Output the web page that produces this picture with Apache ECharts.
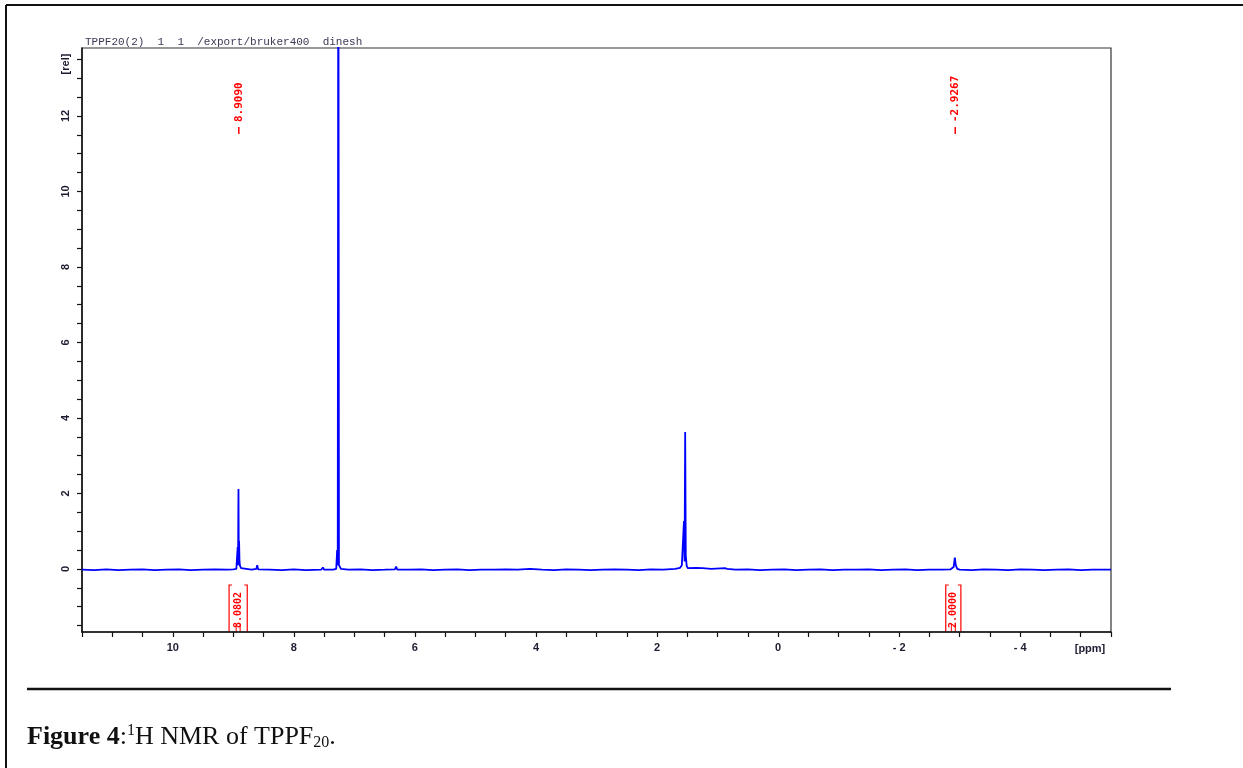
<!DOCTYPE html>
<html>
<head>
<meta charset="utf-8">
<title>1H NMR of TPPF20</title>
<script src="https://cdn.jsdelivr.net/npm/echarts@6/dist/echarts.min.js"></script>
<style>
  html, body { margin: 0; padding: 0; background: #ffffff; }
  #chart { width: 1243px; height: 768px; }
</style>
</head>
<body>
<div id="chart"></div>
<script>
// spectrum (ppm, relative intensity)
const ppm = [
  11.5, 11.3, 11.1, 10.9, 10.7, 10.5, 10.3, 10.1, 9.9, 9.7,
  9.5, 9.3, 9.1, 9.0, 8.95, 8.935, 8.928, 8.922, 8.915, 8.91,
  8.905, 8.898, 8.89, 8.87, 8.85, 8.7, 8.62, 8.605, 8.59, 8.4,
  8.2, 8.0, 7.8, 7.55, 7.52, 7.5, 7.35, 7.3, 7.285, 7.275,
  7.265, 7.255, 7.24, 7.22, 7.1, 6.9, 6.7, 6.5, 6.33, 6.31,
  6.29, 6.1, 5.9, 5.7, 5.5, 5.3, 5.1, 4.9, 4.7, 4.5,
  4.3, 4.1, 3.9, 3.7, 3.5, 3.3, 3.1, 2.9, 2.7, 2.5,
  2.3, 2.1, 1.9, 1.7, 1.62, 1.59, 1.555, 1.545, 1.535, 1.525,
  1.51, 1.49, 1.35, 1.25, 1.1, 0.88, 0.84, 0.7, 0.5, 0.3,
  0.1, -0.1, -0.3, -0.5, -0.7, -0.9, -1.1, -1.3, -1.5, -1.7,
  -1.9, -2.1, -2.3, -2.5, -2.7, -2.85, -2.9, -2.92, -2.935, -2.96,
  -3.0, -3.2, -3.4, -3.6, -3.8, -4.0, -4.2, -4.4, -4.6, -4.8,
  -5.0, -5.2, -5.5
];
const intensity = [
  -0.02, -0.03, -0.01, -0.03, -0.02, -0.01, -0.03, -0.02, -0.01, -0.03,
  -0.02, -0.01, -0.02, -0.01, 0.0, 0.05, 0.58, 0.1, 2.12, 0.3,
  0.74, 0.2, 0.08, 0.02, -0.01, -0.02, 0.0, 0.1, -0.01, -0.02,
  -0.03, -0.01, -0.03, -0.02, 0.04, -0.02, -0.02, 0.0, 0.5, 0.1,
  20, 0.1, 0.05, 0.0, -0.02, -0.01, -0.03, -0.02, -0.01, 0.06,
  -0.02, -0.02, -0.01, -0.03, -0.02, -0.01, -0.03, -0.02, -0.02, -0.01,
  -0.02, 0.0, -0.02, -0.03, -0.01, -0.02, -0.03, -0.02, -0.01, -0.02,
  -0.03, -0.01, -0.02, 0.0, 0.03, 0.1, 1.27, 0.2, 3.63, 0.35,
  0.08, 0.02, 0.03, 0.02, 0.0, 0.02, 0.0, -0.02, -0.01, -0.03,
  -0.02, -0.01, -0.03, -0.02, -0.01, -0.03, -0.02, -0.02, -0.01, -0.03,
  -0.02, -0.01, -0.03, -0.02, -0.02, -0.01, 0.05, 0.3, 0.1, 0.0,
  -0.02, -0.03, -0.01, -0.02, -0.03, -0.01, -0.02, -0.03, -0.02, -0.01,
  -0.03, -0.02, -0.02
];

// axis ticks and labels
const xTickValues = [
  11.5, 11, 10.5, 10, 9.5, 9, 8.5, 8, 7.5, 7, 6.5, 6, 5.5, 5, 4.5, 4, 3.5, 3,
  2.5, 2, 1.5, 1, 0.5, 0, -0.5, -1, -1.5, -2, -2.5, -3, -3.5, -4, -4.5, -5, -5.5
];
const xLabelValues = [10, 8, 6, 4, 2, 0, -2, -4];
const yTickValues = [
  -1.5, -1, -0.5, 0, 0.5, 1, 1.5, 2, 2.5, 3, 3.5, 4, 4.5, 5, 5.5, 6, 6.5, 7,
  7.5, 8, 8.5, 9, 9.5, 10, 10.5, 11, 11.5, 12, 12.5, 13, 13.5
];
const yLabelValues = [0, 2, 4, 6, 8, 10, 12];

// peak picking and integrals
const peakPpm = [8.909, -2.9267];
const peakText = ["8.9090", "-2.9267"];
const integralFrom = [9.07, -2.77];
const integralTo = [8.77, -3.02];
const integralText = ["8.0802", "2.0000"];

const headerText = "TPPF20(2)  1  1  /export/bruker400  dinesh";

const red = "#ff0000";
const axisText = "#1c1c30";

const chart = echarts.init(document.getElementById("chart"), null, {
  renderer: "canvas",
  width: 1243,
  height: 768
});

const spectrum = ppm.map((p, i) => [p, intensity[i]]);

chart.setOption({
  animation: false,
  backgroundColor: "#ffffff",
  grid: {
    left: 82,
    right: 132,
    top: 48,
    bottom: 136,
    show: true,
    borderColor: "#333333",
    borderWidth: 1.2
  },
  xAxis: {
    type: "value",
    inverse: true,
    min: -5.5,
    max: 11.5,
    axisLine: { onZero: false, lineStyle: { color: "#111111", width: 1.5 } },
    axisTick: {
      length: 5,
      customValues: xTickValues,
      lineStyle: { color: "#111111", width: 1.2 }
    },
    axisLabel: {
      customValues: xLabelValues,
      margin: 10,
      color: axisText,
      fontFamily: "Liberation Sans",
      fontWeight: "bold",
      fontSize: 11,
      formatter(v) {
        return v < 0 ? "- " + Math.abs(v) : String(v);
      }
    },
    splitLine: { show: false }
  },
  yAxis: {
    type: "value",
    min: -1.67,
    max: 13.8,
    axisLine: { show: true, onZero: false, lineStyle: { color: "#111111", width: 1.5 } },
    axisTick: {
      show: true,
      length: 5,
      customValues: yTickValues,
      lineStyle: { color: "#111111", width: 1.2 }
    },
    axisLabel: {
      customValues: yLabelValues,
      rotate: 90,
      margin: 11,
      color: axisText,
      fontFamily: "Liberation Sans",
      fontWeight: "bold",
      fontSize: 11
    },
    splitLine: { show: false }
  },
  series: [
    {
      type: "line",
      data: spectrum,
      showSymbol: false,
      clip: true,
      lineStyle: { color: "#0000ff", width: 1.8 }
    }
  ]
});

function px(x, y) {
  return chart.convertToPixel({ gridIndex: 0 }, [x, y]);
}

const plotTop = px(0, 13.8)[1];
const plotBottom = px(0, -1.67)[1];
const plotLeft = px(11.5, 0)[0];

const graphics = [
  // page frame
  { type: "line", shape: { x1: 6, y1: 5, x2: 1243, y2: 5 }, style: { stroke: "#111111", lineWidth: 2 } },
  { type: "line", shape: { x1: 6, y1: 5, x2: 6, y2: 768 }, style: { stroke: "#111111", lineWidth: 2 } },
  // separator and caption
  { type: "line", shape: { x1: 27, y1: 689, x2: 1171, y2: 689 }, style: { stroke: "#111111", lineWidth: 2.5 } },
  {
    type: "text",
    x: 27,
    y: 737,
    style: {
      text: "{b|Figure 4}:{sup|1}H NMR of TPPF{sub|20}.",
      font: '26px "Liberation Serif"',
      fill: "#111111",
      verticalAlign: "middle",
      textVerticalAlign: "middle",
      rich: {
        b: { font: 'bold 26px "Liberation Serif"', fill: "#111111", lineHeight: 34, verticalAlign: "middle" },
        sup: { font: '16px "Liberation Serif"', fill: "#111111", lineHeight: 34, verticalAlign: "top", padding: [3, 0, 0, 0] },
        sub: { font: '16px "Liberation Serif"', fill: "#111111", lineHeight: 34, verticalAlign: "bottom", padding: [0, 0, 3, 0] }
      },
      lineHeight: 34
    }
  },
  // header
  {
    type: "text",
    x: plotLeft + 3,
    y: 42,
    style: {
      text: headerText,
      font: '11px "Liberation Mono"',
      fill: "#3a3a55",
      verticalAlign: "middle",
      textVerticalAlign: "middle"
    }
  },
  // axis units
  {
    type: "text",
    x: 66,
    y: 64,
    rotation: Math.PI / 2,
    style: {
      text: "[rel]",
      font: 'bold 11px "Liberation Sans"',
      fill: axisText,
      align: "center",
      textAlign: "center",
      verticalAlign: "middle",
      textVerticalAlign: "middle"
    }
  },
  {
    type: "text",
    x: 1090,
    y: plotBottom + 17,
    style: {
      text: "[ppm]",
      font: 'bold 11px "Liberation Sans"',
      fill: axisText,
      align: "center",
      textAlign: "center",
      verticalAlign: "middle",
      textVerticalAlign: "middle"
    }
  }
];

peakPpm.forEach((p, i) => {
  const x = px(p, 0)[0];
  graphics.push({
    type: "text",
    x: x,
    y: plotTop + 74,
    rotation: Math.PI / 2,
    style: {
      text: peakText[i],
      font: 'bold 11px "DejaVu Sans Mono"',
      fill: red,
      align: "left",
      textAlign: "left",
      verticalAlign: "middle",
      textVerticalAlign: "middle"
    }
  });
  graphics.push({
    type: "line",
    shape: { x1: x, y1: plotTop + 79, x2: x, y2: plotTop + 86 },
    style: { stroke: red, lineWidth: 1.5 }
  });
});

integralFrom.forEach((from, i) => {
  const xL = px(from, 0)[0];
  const xR = px(integralTo[i], 0)[0];
  const xc = (xL + xR) / 2;
  const top = plotBottom - 47;
  graphics.push({
    type: "polyline",
    shape: { points: [[xL, plotBottom], [xL, top], [xL + 3, top]] },
    style: { stroke: red, lineWidth: 1.2, fill: null }
  });
  graphics.push({
    type: "polyline",
    shape: { points: [[xR, plotBottom], [xR, top], [xR - 3, top]] },
    style: { stroke: red, lineWidth: 1.2, fill: null }
  });
  graphics.push({
    type: "text",
    x: xc,
    y: plotBottom - 4,
    rotation: Math.PI / 2,
    style: {
      text: integralText[i],
      font: 'bold 10px "DejaVu Sans Mono"',
      fill: red,
      align: "left",
      textAlign: "left",
      verticalAlign: "middle",
      textVerticalAlign: "middle"
    }
  });
  graphics.push({
    type: "line",
    shape: { x1: xc - 2, y1: plotBottom - 8, x2: xc - 2, y2: plotBottom },
    style: { stroke: red, lineWidth: 1 }
  });
  graphics.push({
    type: "line",
    shape: { x1: xc + 2, y1: plotBottom - 8, x2: xc + 2, y2: plotBottom },
    style: { stroke: red, lineWidth: 1 }
  });
});

chart.setOption({ graphic: graphics });
</script>
</body>
</html>
